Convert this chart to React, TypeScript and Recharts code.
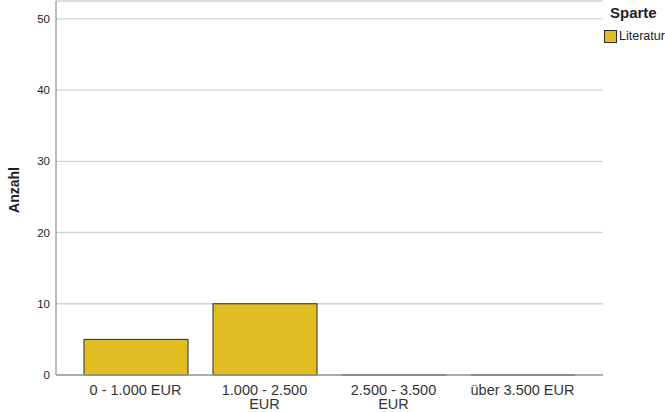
import { BarChart, Bar, XAxis, YAxis, CartesianGrid } from 'recharts';

const categories = ['0 - 1.000 EUR', '1.000 - 2.500 EUR', '2.500 - 3.500 EUR', 'über 3.500 EUR'];
const literatur = [5, 10, 0, 0];
const yTicks = [0, 10, 20, 30, 40, 50];

const chartData = categories.map((name, i) => ({ name, Literatur: literatur[i] }));

const FONT = '"Liberation Sans", Arial, sans-serif';
const BAR_FILL = '#e0bd22';

function CategoryTick({ x, y, payload }: any) {
  const value: string = payload.value;
  const lines = value.length > 15 ? [value.replace(/ EUR$/, ''), 'EUR'] : [value];
  return (
    <text x={x} y={y} textAnchor="middle" fontFamily={FONT} fontSize={14.5} fill="#333">
      {lines.map((line, i) => (
        <tspan key={i} x={x} dy={i === 0 ? 12 : 14}>
          {line}
        </tspan>
      ))}
    </text>
  );
}

function BarShape({ x, y, width, height }: any) {
  if (!height) {
    return <line x1={x} x2={x + width} y1={y} y2={y} stroke="#666" strokeWidth={2} />;
  }
  return <rect x={x} y={y} width={width} height={height} fill={BAR_FILL} stroke="#2b2b2b" strokeWidth={1} />;
}

function LegendBox() {
  return (
    <div style={{ position: 'absolute', left: 604, top: 4, fontFamily: FONT, color: '#222' }}>
      <div style={{ fontWeight: 'bold', fontSize: 15, marginLeft: 6, lineHeight: '18px' }}>Sparte</div>
      <div style={{ display: 'flex', alignItems: 'center', marginTop: 7, fontSize: 12.5 }}>
        <span
          style={{
            display: 'inline-block',
            width: 11,
            height: 11,
            background: BAR_FILL,
            border: '1px solid #2b2b2b',
            marginRight: 2,
          }}
        />
        <span>Literatur</span>
      </div>
    </div>
  );
}

export default function App() {
  return (
    <div style={{ position: 'absolute', left: 0, top: 0, width: 665, height: 412, background: '#fff' }}>
      <BarChart width={665} height={412} data={chartData} margin={{ top: 1, right: 62, bottom: 0, left: 0 }} barSize={104}>
        <CartesianGrid vertical={false} stroke="#d4d4d4" strokeWidth={1.3} />
        <XAxis
          dataKey="name"
          height={37}
          padding={{ left: 15, right: 16 }}
          tickLine={false}
          axisLine={{ stroke: '#9a9a9a', strokeWidth: 1.3 }}
          tick={<CategoryTick />}
          interval={0}
        />
        <YAxis
          width={56}
          domain={[0, 52.5]}
          ticks={yTicks}
          tickLine={false}
          tickSize={0}
          tickMargin={6}
          axisLine={{ stroke: '#9a9a9a', strokeWidth: 1.3 }}
          tick={{ fontFamily: FONT, fontSize: 11.5, fill: '#222' }}
          label={{
            content: () => (
              <text
                x={19}
                y={190}
                transform="rotate(-90 19 190)"
                textAnchor="middle"
                fontFamily={FONT}
                fontSize={14}
                fontWeight="bold"
                fill="#222"
              >
                Anzahl
              </text>
            ),
          }}
        />
        <Bar dataKey="Literatur" shape={<BarShape />} isAnimationActive={false} />
      </BarChart>
      <LegendBox />
    </div>
  );
}
